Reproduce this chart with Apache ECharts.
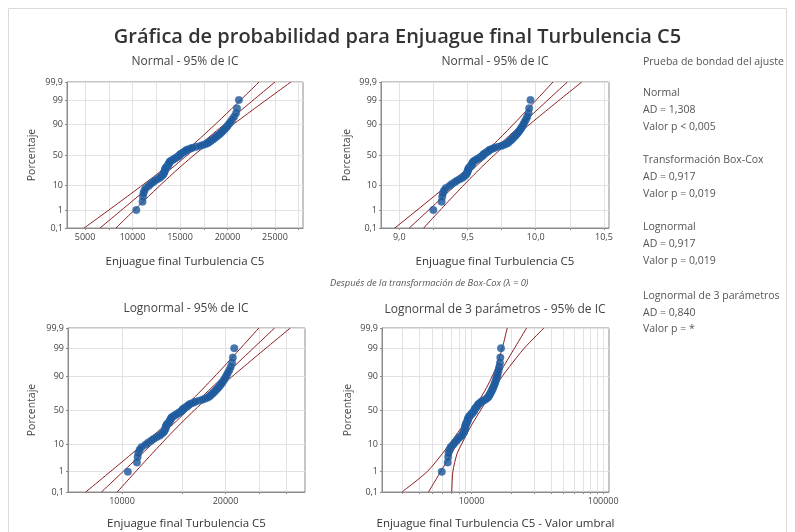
<!DOCTYPE html>
<html><head><meta charset="utf-8">
<script src="https://cdn.jsdelivr.net/npm/echarts@6/dist/echarts.min.js"></script>
<style>html,body{margin:0;padding:0;background:#fff}#c{width:795px;height:532px}</style>
</head><body><div id="c"></div>
<script>
// ---------- DATA ----------
// Enjuague final Turbulencia C5, sorted sample values (n = 70)
const turbidity = [
  10400, 11050, 11100, 11150, 11250, 11400, 11700, 11900, 12150, 12350,
  12600, 12850, 13000, 13150, 13250, 13300, 13350, 13400, 13420, 13450,
  13500, 13600, 13700, 13750, 13800, 13850, 13900, 13950, 14100, 14250,
  14400, 14550, 14700, 14850, 14950, 15000, 15100, 15250, 15400, 15550,
  15650, 15800, 16100, 16300, 16700, 17100, 17400, 17700, 17900, 18050,
  18200, 18350, 18500, 18650, 18800, 18950, 19100, 19250, 19400, 19550,
  19700, 19850, 20000, 20150, 20300, 20500, 20700, 20900, 21000, 21200
];
// fitted parameters [location, scale]
const normalParams = [15790, 2980];
const boxcoxParams = [9.6525, 0.1875];      // ln-space (lambda = 0)
const lognormalParams = [9.6525, 0.1875];
const threshold3 = 4460;
const lognormal3Params = [9.3148, 0.27766];
// 3-parameter lognormal confidence bands [percent, value - threshold]
const lognormal3Lower = [[0.1,2958],[1,4592],[5,5998],[10,6808],[20,7889],[30,8750],[50,10280],[70,11940],[80,13000],[90,14390],[95,15450],[99,17100],[99.9,18660]];
const lognormal3Upper = [[0.1,7079],[1,7211],[5,7762],[10,8414],[20,9333],[30,10116],[50,11749],[70,13646],[80,14962],[90,17179],[95,19498],[99,25119],[99.9,35481]];
// axis ticks
const yTickPercents = [0.1, 1, 10, 50, 90, 99, 99.9];
const yTickLabels = ['0,1', '1', '10', '50', '90', '99', '99,9'];
const normalXGrid = [5000, 7500, 10000, 12500, 15000, 17500, 20000, 22500, 25000, 27500];
const normalXLabels = [5000, 10000, 15000, 20000, 25000];
const boxcoxXGrid = [9.0, 9.25, 9.5, 9.75, 10.0, 10.25, 10.5];
const boxcoxXLabels = [9.0, 9.5, 10.0, 10.5];
const lognormalXGrid = [10000, 15000, 20000, 25000, 30000];
const lognormalXLabels = [10000, 20000];
const lognormal3XGrid = [3000,4000,5000,6000,7000,8000,9000,10000,20000,30000,40000,50000,60000,70000,80000,90000,100000];
const lognormal3XLabels = [10000, 100000];
const gofLines = [
  ['Prueba de bondad del ajuste', 62],
  ['Normal', 93], ['AD = 1,308', 110], ['Valor p < 0,005', 127],
  ['Transformación Box-Cox', 160], ['AD = 0,917', 177], ['Valor p = 0,019', 194],
  ['Lognormal', 227], ['AD = 0,917', 244], ['Valor p = 0,019', 261],
  ['Lognormal de 3 parámetros', 296], ['AD = 0,840', 313], ['Valor p = *', 329]
];

// ---------- helpers ----------
function qnorm(p){
  const a=[-3.969683028665376e+01,2.209460984245205e+02,-2.759285104469687e+02,1.383577518672690e+02,-3.066479806614716e+01,2.506628277459239e+00];
  const b=[-5.447609879822406e+01,1.615858368580409e+02,-1.556989798598866e+02,6.680131188771972e+01,-1.328068155288572e+01];
  const c=[-7.784894002430293e-03,-3.223964580411365e-01,-2.400758277161838e+00,-2.549732539343734e+00,4.374664141464968e+00,2.938163982698783e+00];
  const d=[7.784695709041462e-03,3.224671290700398e-01,2.445134137142996e+00,3.754408661907416e+00];
  const pl=0.02425, ph=1-pl; let q, r;
  if (p < pl){ q=Math.sqrt(-2*Math.log(p)); return (((((c[0]*q+c[1])*q+c[2])*q+c[3])*q+c[4])*q+c[5])/((((d[0]*q+d[1])*q+d[2])*q+d[3])*q+1); }
  if (p <= ph){ q=p-0.5; r=q*q; return (((((a[0]*r+a[1])*r+a[2])*r+a[3])*r+a[4])*r+a[5])*q/(((((b[0]*r+b[1])*r+b[2])*r+b[3])*r+b[4])*r+1); }
  q=Math.sqrt(-2*Math.log(1-p)); return -(((((c[0]*q+c[1])*q+c[2])*q+c[3])*q+c[4])*q+c[5])/((((d[0]*q+d[1])*q+d[2])*q+d[3])*q+1);
}
const FONT = "'Open Sans', 'Noto Sans', sans-serif";
const n = turbidity.length;
const yTickZ = yTickPercents.map(p => qnorm(p / 100));
const ZMIN = yTickZ[0], ZMAX = yTickZ[yTickZ.length - 1];
const rankZ = turbidity.map((v, i) => qnorm((i + 1 - 0.3) / (n + 0.4)));
const zSteps = [];
for (let k = 0; k <= 60; k++) zSteps.push(ZMIN + (ZMAX - ZMIN) * k / 60);

function fitBand(params, tf){
  const mu = params[0], s = params[1];
  const mid = [], lo = [], hi = [];
  zSteps.forEach(z => {
    const x = mu + z * s;
    const h = 1.96 * s * Math.sqrt((1 + z * z / 2) / n);
    mid.push([tf(x), z]); lo.push([tf(x - h), z]); hi.push([tf(x + h), z]);
  });
  return [mid, lo, hi];
}
const ident = v => v;
const lnToLog10 = v => v / Math.LN10;
const log10 = v => Math.log10(v);
const comma1 = v => v.toFixed(1).replace('.', ',');
const powLabel = v => String(Math.round(Math.pow(10, v)));
const bandZ = d => Math.max(ZMIN, Math.min(ZMAX, qnorm(d[0] / 100)));

const FIT = '#8b1c1f';
const AX = '#8c8c8c';
const panels = [
  { grid:{left:67, top:82, width:236, height:146}, min:3100, max:27950, xgrid:normalXGrid, xlab:normalXLabels, fmt:v=>String(Math.round(v)),
    name:'Enjuague final Turbulencia C5', nameGap:28, yGap:29,
    pts: turbidity.map((v,i)=>[v, rankZ[i]]), lines: fitBand(normalParams, ident) },
  { grid:{left:381, top:82, width:228, height:146}, min:8.866, max:10.537, xgrid:boxcoxXGrid, xlab:boxcoxXLabels, fmt:comma1,
    name:'Enjuague final Turbulencia C5', nameGap:28, yGap:28,
    pts: turbidity.map((v,i)=>[Math.log(v), rankZ[i]]), lines: fitBand(boxcoxParams, ident) },
  { grid:{left:68, top:328, width:237, height:164}, min:3.843, max:4.532, xgrid:lognormalXGrid.map(log10), xlab:lognormalXLabels.map(log10), fmt:powLabel,
    name:'Enjuague final Turbulencia C5', nameGap:26, yGap:30,
    pts: turbidity.map((v,i)=>[Math.log10(v), rankZ[i]]), lines: fitBand(lognormalParams, lnToLog10) },
  { grid:{left:382, top:328, width:227, height:164}, min:3.3197, max:5.044, xgrid:lognormal3XGrid.map(log10), xlab:lognormal3XLabels.map(log10), fmt:powLabel,
    name:'Enjuague final Turbulencia C5 - Valor umbral', nameGap:26, yGap:28,
    pts: turbidity.map((v,i)=>[Math.log10(v - threshold3), rankZ[i]]),
    lines: [
      zSteps.map(z => [Math.log10(Math.exp(lognormal3Params[0] + z * lognormal3Params[1])), z]),
      lognormal3Lower.map(d => [Math.log10(d[1]), bandZ(d)]),
      lognormal3Upper.map(d => [Math.log10(d[1]), bandZ(d)])
    ], smooth:true }
];

const grids = [], xAxes = [], yAxes = [], series = [];
panels.forEach((p, gi) => {
  grids.push(Object.assign({ show:true, borderColor:AX, borderWidth:1, containLabel:false, outerBoundsMode:'none' }, p.grid));
  xAxes.push({ type:'value', gridIndex:gi, min:p.min, max:p.max,
    name:p.name, nameLocation:'middle', nameGap:p.nameGap,
    nameTextStyle:{ fontFamily:FONT, fontSize:11.5, color:'#333' },
    axisLine:{ show:true, onZero:false, lineStyle:{ color:AX } },
    axisTick:{ show:true, customValues:p.xgrid, length:2, lineStyle:{ color:AX } },
    axisLabel:{ customValues:p.xlab, formatter:p.fmt, fontFamily:FONT, fontSize:9, color:'#444', margin:5 },
    splitLine:{ show:true, lineStyle:{ color:'#e2e2e2', width:1 } } });
  yAxes.push({ type:'value', gridIndex:gi, min:ZMIN, max:ZMAX,
    name:'Porcentaje', nameLocation:'middle', nameGap:p.yGap, nameRotate:90,
    nameTextStyle:{ fontFamily:FONT, fontSize:10.5, color:'#444' },
    axisLine:{ show:true, onZero:false, lineStyle:{ color:AX } },
    axisTick:{ show:true, customValues:yTickZ, length:2, lineStyle:{ color:AX } },
    axisLabel:{ customValues:yTickZ, fontFamily:FONT, fontSize:9, color:'#444', margin:4,
      formatter: v => { for (let i = 0; i < yTickZ.length; i++) if (Math.abs(yTickZ[i] - v) < 1e-3) return yTickLabels[i]; return ''; } },
    splitLine:{ show:true, lineStyle:{ color:'#e2e2e2', width:1 } } });
  p.lines.forEach(ln => series.push({ type:'line', xAxisIndex:gi, yAxisIndex:gi, data:ln, symbol:'none', showSymbol:false,
    smooth: p.smooth ? 0.3 : false, clip:true, silent:true, z:2, lineStyle:{ color:FIT, width:1 } }));
  series.push({ type:'scatter', xAxisIndex:gi, yAxisIndex:gi, data:p.pts, symbol:'circle', symbolSize:7.5, z:3, silent:true,
    itemStyle:{ color:'#1b5596', borderColor:'#2f74b8', borderWidth:0.5 } });
});

function txt(text, x, y, font, fill, align){
  return { type:'text', x:x, y:y, silent:true, style:{ text:text, font:font, fill:fill,
    align:align||'center', verticalAlign:'middle', textAlign:align||'center', textVerticalAlign:'middle' } };
}
const graphics = [
  { type:'rect', silent:true, shape:{ x:8.5, y:8.5, width:778, height:530 }, style:{ fill:'none', stroke:'#dadada', lineWidth:1 } },
  txt('Gráfica de probabilidad para Enjuague final Turbulencia C5', 397.5, 37, "600 20px 'Open Sans'", '#333'),
  txt('Normal - 95% de IC', 185, 62, "12px 'Open Sans'", '#444'),
  txt('Normal - 95% de IC', 495, 62, "12px 'Open Sans'", '#444'),
  txt('Después de la transformación de Box-Cox (λ = 0)', 330, 283, "italic 9.3px 'Open Sans'", '#555', 'left'),
  txt('Lognormal - 95% de IC', 186, 309, "12px 'Open Sans'", '#444'),
  txt('Lognormal de 3 parámetros - 95% de IC', 495, 310, "12px 'Open Sans'", '#444')
];
gofLines.forEach(g => graphics.push(txt(g[0], 643, g[1], "10.5px 'Open Sans'", '#555', 'left')));

const chart = echarts.init(document.getElementById('c'), null, { renderer:'canvas' });
chart.setOption({
  animation:false,
  backgroundColor:'#ffffff',
  textStyle:{ fontFamily:FONT },
  grid:grids, xAxis:xAxes, yAxis:yAxes, series:series, graphic:graphics
});
</script></body></html>
